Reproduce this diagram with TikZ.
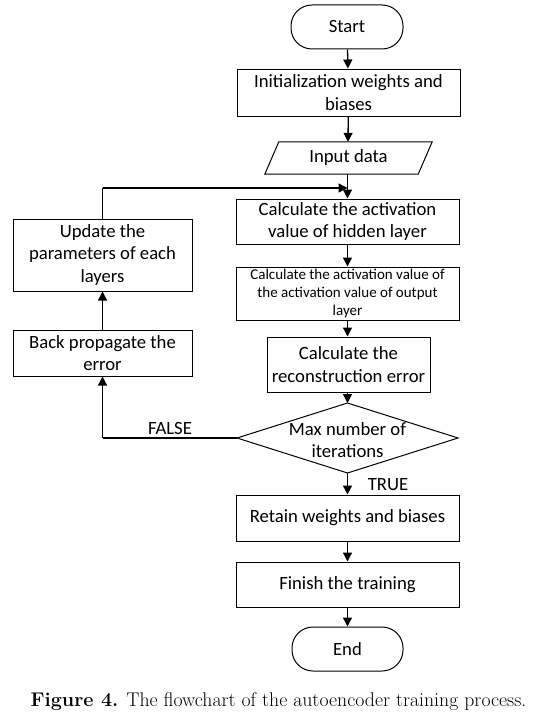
\documentclass[tikz,border=0pt]{standalone}
\usepackage{fontspec}
\newfontfamily\calfont{Carlito}
\usetikzlibrary{arrows.meta}
\begin{document}
\begin{tikzpicture}[x=1pt,y=-1pt,
  every node/.style={font=\calfont\fontsize{18.7}{22.8}\selectfont, inner sep=0pt, align=center},
  box/.style={draw, line width=1pt, minimum width=223pt, minimum height=46pt},
  term/.style={draw, line width=1pt, rounded corners=21pt, minimum width=112pt, minimum height=44pt},
  arr/.style={line width=1.3pt, -{Triangle[length=9pt,width=9pt]}},
  ln/.style={line width=1.3pt}]
\useasboundingbox (0,0) rectangle (534,717);
\node[term] (start) at (347,27) {Start};
\node[box, minimum height=47pt] (init) at (348.5,92.5) {Initialization weights and\\biases};
\node[minimum width=153pt, minimum height=32pt] (input) at (348.5,158) {Input data};
\draw[line width=1pt] ([xshift=-7pt]input.south west) -- ([xshift=7pt]input.north west) -- ([xshift=7pt]input.north east) -- ([xshift=-7pt]input.south east) -- cycle;
\node[box, minimum height=45pt] (hidden) at (347.5,221.5) {Calculate the activation\\value of hidden layer};
\node[box, minimum height=53pt, font=\calfont\fontsize{15}{18.3}\selectfont] (output) at (347.5,293.5) {Calculate the activation value of\\the activation value of output\\layer};
\node[box, minimum width=163pt, minimum height=55pt] (recon) at (348.5,364.5) {Calculate the\\reconstruction error};
\node (dec) at (347.5,440) {Max number of\\iterations};
\coordinate (dt) at (347.5,403);
\coordinate (db) at (347.5,473);
\coordinate (dl) at (237,438);
\coordinate (dr) at (458,438);
\draw[line width=1pt] (dt) -- (dr) -- (db) -- (dl) -- cycle;
\node[box] (retain) at (347.5,518) {Retain weights and biases};
\node[box, minimum height=45pt] (finish) at (347.5,584.5) {Finish the training};
\node[term, minimum width=111pt] (end) at (347.5,649) {End};
\node[box, minimum width=179pt, minimum height=72pt] (update) at (102.5,255) {Update the\\parameters of each\\layers};
\node[box, minimum width=179pt] (back) at (102.5,353) {Back propagate the\\error};
\node (false) at (170,428) {FALSE};
\node (true) at (388,485) {TRUE};
\coordinate (topleft) at (102.5,188);
\coordinate (topright) at (347.5,188);
\coordinate (botleft) at (102.5,438);
\draw[arr] (start) -- (init);
\draw[arr] (init) -- ([xshift=-0.5pt]input.north);
\draw[arr] ([xshift=-1pt]input.south) -- (hidden);
\draw[arr] (hidden) -- (output);
\draw[arr] (output) -- ([xshift=-1pt]recon.north);
\draw[arr] ([xshift=-1pt]recon.south) -- (dt);
\draw[arr] (db) -- (retain);
\draw[arr] (retain) -- (finish);
\draw[arr] (finish) -- (end);
\draw[ln] (dl) -- (botleft);
\draw[arr] (botleft) -- (back);
\draw[arr] (back) -- (update);
\draw[ln] (update) -- (topleft);
\draw[arr] (topleft) -- (topright);
\node[font=\fontsize{19.8}{23}\selectfont] (cap) at (278.5,702) {\textbf{Figure 4.} The flowchart of the autoencoder training process.};
\end{tikzpicture}
\end{document}
